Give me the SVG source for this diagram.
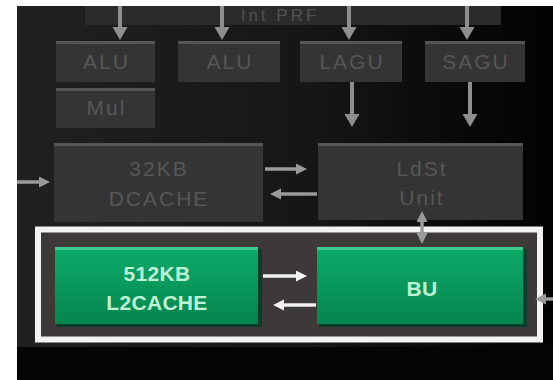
<svg xmlns="http://www.w3.org/2000/svg" width="553" height="380" viewBox="0 0 553 380">
  <defs>
    <linearGradient id="panelBg" x1="0" y1="0" x2="1" y2="0">
      <stop offset="0" stop-color="#202020"/>
      <stop offset="0.55" stop-color="#161616"/>
      <stop offset="0.85" stop-color="#080808"/>
      <stop offset="1" stop-color="#020202"/>
    </linearGradient>
    <linearGradient id="greenFill" x1="0" y1="0" x2="0" y2="1">
      <stop offset="0" stop-color="#0bab69"/>
      <stop offset="1" stop-color="#06854e"/>
    </linearGradient>
    <clipPath id="panelClip">
      <rect x="17" y="6" width="536" height="374"/>
    </clipPath>
    <marker id="headGrey" markerUnits="userSpaceOnUse" markerWidth="14" markerHeight="16" refX="4" refY="7.5" orient="auto-start-reverse">
      <path d="M0,0 L13,7.5 L0,15 z" fill="#8e8e8e"/>
    </marker>
    <marker id="headSmall" markerUnits="userSpaceOnUse" markerWidth="12" markerHeight="12" refX="3" refY="5.5" orient="auto-start-reverse">
      <path d="M0,0 L11,5.5 L0,11 z" fill="#9a9a9a"/>
    </marker>
    <marker id="headWhite" markerUnits="userSpaceOnUse" markerWidth="12" markerHeight="12" refX="3" refY="5.5" orient="auto-start-reverse">
      <path d="M0,0 L11,5.5 L0,11 z" fill="#f2f2f2"/>
    </marker>
    <style>
      .box { fill: #343434; }
      .hl { fill: #555555; }
      .lbl { font-family: "Liberation Sans", Arial, sans-serif; font-size: 21px; fill: #575757; text-anchor: middle; letter-spacing: 2px; }
      .glbl { font-family: "Liberation Sans", Arial, sans-serif; font-size: 21px; font-weight: bold; fill: #bdf3d4; text-anchor: middle; letter-spacing: 0.3px; }
      .green { fill: url(#greenFill); }
      .ghl { fill: #3ccc8e; }
      .gshade { fill: #0b3d2a; }
      .arr { stroke: #8e8e8e; stroke-width: 4; fill: none; marker-end: url(#headGrey); }
      .arrS { stroke: #9a9a9a; stroke-width: 3.5; fill: none; marker-end: url(#headSmall); }
      .arrW { stroke: #f2f2f2; stroke-width: 3.5; fill: none; marker-end: url(#headWhite); }
    </style>
  </defs>

  <!-- page -->
  <rect x="0" y="0" width="553" height="380" fill="#ffffff"/>

  <g clip-path="url(#panelClip)">
    <!-- dark backdrop -->
    <rect x="17" y="6" width="536" height="341" fill="url(#panelBg)"/>
    <rect x="17" y="347" width="536" height="33" fill="#050505"/>

    <!-- register file bar along the top edge -->
    <g id="int-prf">
      <rect x="85" y="0" width="416" height="25" fill="#2b2b2b"/>
      <text class="lbl" x="280" y="21" style="font-size:17px;fill:#525252;letter-spacing:3px">Int PRF</text>
    </g>

    <g id="alu-0">
      <rect class="box" x="56" y="41" width="99" height="41"/>
      <rect class="hl" x="56" y="41" width="99" height="3"/>
      <text class="lbl" x="106.5" y="69">ALU</text>
    </g>
    <g id="alu-1">
      <rect class="box" x="178" y="41" width="102" height="41"/>
      <rect class="hl" x="178" y="41" width="102" height="3"/>
      <text class="lbl" x="230" y="69">ALU</text>
    </g>
    <g id="lagu">
      <rect class="box" x="300" y="41" width="102" height="41"/>
      <rect class="hl" x="300" y="41" width="102" height="3"/>
      <text class="lbl" x="352" y="69">LAGU</text>
    </g>
    <g id="sagu">
      <rect class="box" x="425" y="41" width="100" height="41"/>
      <rect class="hl" x="425" y="41" width="100" height="3"/>
      <text class="lbl" x="476" y="69">SAGU</text>
    </g>
    <g id="mul">
      <rect class="box" x="56" y="88" width="99" height="40"/>
      <rect class="hl" x="56" y="88" width="99" height="3"/>
      <text class="lbl" x="106.5" y="115">Mul</text>
    </g>

    <g id="dcache">
      <rect class="box" x="54" y="143" width="209" height="79"/>
      <rect class="hl" x="54" y="143" width="209" height="3"/>
      <text class="lbl" x="159" y="176">32KB</text>
      <text class="lbl" x="159" y="206">DCACHE</text>
    </g>
    <g id="ldst">
      <rect class="box" x="318" y="143" width="205" height="77"/>
      <rect class="hl" x="318" y="143" width="205" height="3"/>
      <text class="lbl" x="422" y="176">LdSt</text>
      <text class="lbl" x="422" y="205">Unit</text>
    </g>

    <!-- bus interface frame -->
    <g id="bus-frame">
      <rect x="38" y="229.5" width="502" height="110" fill="#3d3939" stroke="#f2f2f2" stroke-width="6"/>
    </g>

    <g id="l2cache">
      <rect class="gshade" x="57" y="249" width="205" height="78"/>
      <rect class="green" x="55" y="247" width="203" height="77"/>
      <rect class="ghl" x="55" y="247" width="203" height="3"/>
      <text class="glbl" x="157" y="281">512KB</text>
      <text class="glbl" x="157" y="310">L2CACHE</text>
    </g>
    <g id="bu">
      <rect class="gshade" x="319" y="249" width="208" height="78"/>
      <rect class="green" x="317" y="247" width="206" height="77"/>
      <rect class="ghl" x="317" y="247" width="206" height="3"/>
      <text class="glbl" x="422" y="296">BU</text>
    </g>

    <g id="connectors">
      <!-- register file to execution units -->
      <line class="arr" x1="120" y1="0" x2="120" y2="31"/>
      <line class="arr" x1="222" y1="0" x2="222" y2="31"/>
      <line class="arr" x1="349" y1="0" x2="349" y2="31"/>
      <line class="arr" x1="467" y1="0" x2="467" y2="31"/>
      <!-- address generators down to load/store -->
      <line class="arr" x1="352" y1="82" x2="352" y2="118"/>
      <line class="arr" x1="470" y1="82" x2="470" y2="118"/>
      <!-- into the data cache -->
      <line class="arrS" x1="17" y1="182" x2="42" y2="182"/>
      <!-- data cache and load/store -->
      <line class="arrS" x1="265" y1="169" x2="299" y2="169"/>
      <line class="arrS" x1="317" y1="194" x2="278" y2="194"/>
      <!-- load/store to bus unit, both ways -->
      <line x1="422" y1="219" x2="422" y2="236" stroke="#9a9a9a" stroke-width="3.5" marker-start="url(#headSmall)" marker-end="url(#headSmall)"/>
      <!-- L2 and bus unit -->
      <line class="arrW" x1="263" y1="276" x2="299" y2="276"/>
      <line class="arrW" x1="316" y1="305" x2="281" y2="305"/>
      <!-- external bus into BU -->
      <line class="arrS" x1="556" y1="299" x2="543" y2="299"/>
    </g>
  </g>
</svg>
